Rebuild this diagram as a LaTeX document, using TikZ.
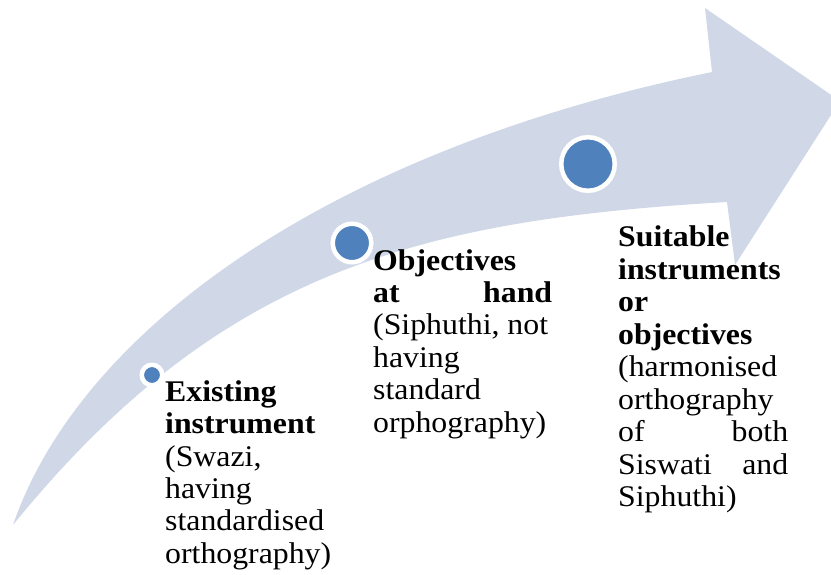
\documentclass[tikz,border=0pt]{standalone}
\usepackage{fontspec}
\setmainfont[FakeStretch=1.06]{Liberation Serif}
\usepackage{tikz}
\usetikzlibrary{positioning}
\usepackage{xcolor}
\definecolor{bandblue}{RGB}{208,216,232}
\definecolor{dotblue}{RGB}{79,129,189}

\begin{document}
\begin{tikzpicture}[
    x=1pt, y=-1pt,
    stage/.style={inner sep=0pt, anchor=base west, align=justify,
        font=\fontsize{30}{32.5}\selectfont},
    dot/.style={circle, fill=dotblue, draw=white, line width=4.5pt, inner sep=0pt},
]
\useasboundingbox (0,0) rectangle (831,575);
\clip (0,0) rectangle (831,575);

% Curved arrow
\fill[bandblue] (13,525) .. controls (80,330) and (330,150) .. (712,72)
    -- (705,8) -- (840,101) -- (735,265) -- (727,202)
    .. controls (420,220) and (220,270) .. (13,525) -- cycle;

% Milestones on the arrow
\node[dot, minimum size=20.5pt] (dotA) at (152,375) {};
\node[dot, minimum size=38.5pt] (dotB) at (352,243) {};
\node[dot, minimum size=53.5pt] (dotC) at (588,164) {};

% Labels
\node[stage, text width=162pt] (existing) at (165,401)
    {\textbf{Existing}\\ \textbf{instrument}\\ (Swazi,\\ having\\ standardised\\ orthography)};
\node[stage, text width=179pt] (objectives) at (373,270)
    {\textbf{Objectives}\\ \textbf{at\hfill hand}\\ (Siphuthi, not\\ having\\ standard\\ orphography)};
\node[stage, text width=170pt] (suitable) at (618,247)
    {\textbf{Suitable}\\ \textbf{instruments}\\ \textbf{or}\\ \textbf{objectives}\\ (harmonised\\ orthography\\ of\hfill both\\ Siswati\hfill and\\ Siphuthi)};
\end{tikzpicture}
\end{document}
